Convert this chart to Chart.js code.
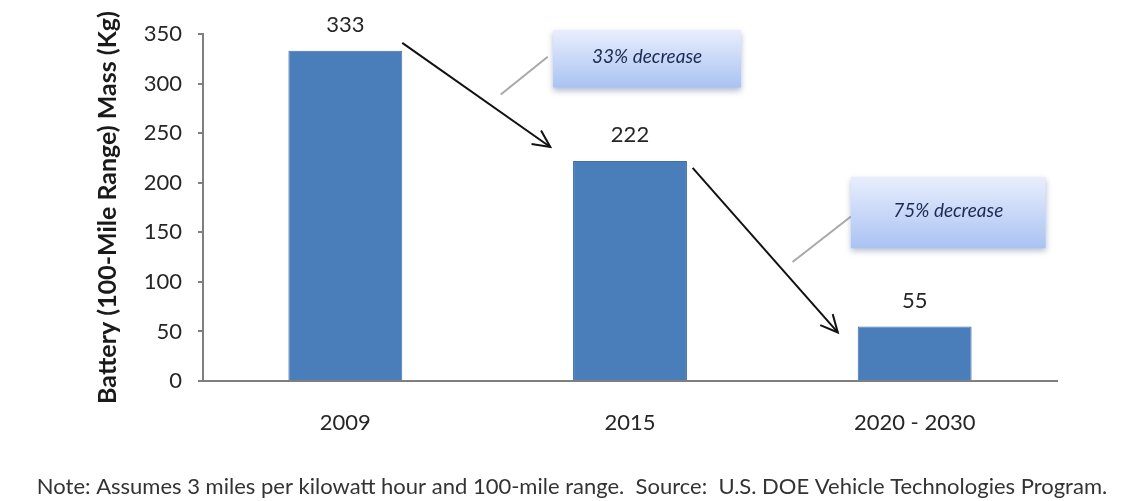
<!DOCTYPE html>
<html>
<head>
<meta charset="utf-8">
<script src="https://cdn.jsdelivr.net/npm/chart.js@4.4.0/dist/chart.umd.min.js"></script>
<style>
  html, body { margin: 0; padding: 0; background: #ffffff; }
  #wrap { width: 1123px; height: 501px; position: relative; }
</style>
</head>
<body>
<div id="wrap"><canvas id="c" width="1123" height="501"></canvas></div>
<script>
const categories = ['2009', '2015', '2020 - 2030'];
const massValues = [333, 222, 55];
const yTicks = [0, 50, 100, 150, 200, 250, 300, 350];
const axisTitle = 'Battery (100-Mile Range) Mass (Kg)';
const noteText = 'Note: Assumes 3 miles per kilowatt hour and 100-mile range.  Source:  U.S. DOE Vehicle Technologies Program.';
// annotations: [x index, value] endpoints
const arrows = [
  { from: [0.20, 341], to: [0.72, 236] },
  { from: [1.22, 215], to: [1.73, 49] }
];
const callouts = [
  { text: '33% decrease', x0: 0.73, x1: 1.39, yTop: 354, yBot: 296, lineFrom: [0.546, 289], lineTo: [0.711, 327] },
  { text: '75% decrease', x0: 1.776, x1: 2.46, yTop: 206, yBot: 134, lineFrom: [1.571, 120], lineTo: [1.776, 166] }
];

const FONT = 'Lato, "Open Sans", sans-serif';

const annotPlugin = {
  id: 'annot',
  afterDatasetsDraw(chart) {
    const ctx = chart.ctx;
    const xs = chart.scales.x, ys = chart.scales.y;
    const px = v => xs.getPixelForValue(v);
    const py = v => ys.getPixelForValue(v);
    ctx.save();
    // data labels
    const meta = chart.getDatasetMeta(0);
    ctx.fillStyle = '#262626';
    ctx.font = '22px ' + FONT;
    ctx.textAlign = 'center';
    ctx.textBaseline = 'middle';
    meta.data.forEach((bar, i) => {
      ctx.fillText(String(massValues[i]), bar.x, bar.y - 26);
    });
    // callout connectors
    callouts.forEach(c => {
      ctx.strokeStyle = '#a8a8a8';
      ctx.lineWidth = 2;
      ctx.beginPath();
      ctx.moveTo(px(c.lineFrom[0]), py(c.lineFrom[1]));
      ctx.lineTo(px(c.lineTo[0]), py(c.lineTo[1]));
      ctx.stroke();
    });
    // callout boxes
    callouts.forEach(c => {
      const x0 = px(c.x0), x1 = px(c.x1), y0 = py(c.yTop), y1 = py(c.yBot);
      ctx.save();
      ctx.shadowColor = 'rgba(90,110,160,0.45)';
      ctx.shadowBlur = 6;
      ctx.shadowOffsetY = 3;
      const g = ctx.createLinearGradient(0, y0, 0, y1);
      g.addColorStop(0, '#e9eefc');
      g.addColorStop(0.5, '#c9d8f8');
      g.addColorStop(1, '#a9c3f2');
      ctx.fillStyle = g;
      ctx.fillRect(x0, y0, x1 - x0, y1 - y0);
      ctx.restore();
      ctx.fillStyle = '#1c2a52';
      ctx.font = 'italic 19px ' + FONT;
      ctx.textAlign = 'center';
      ctx.textBaseline = 'middle';
      ctx.fillText(c.text, (x0 + x1) / 2, (y0 + y1) / 2 - 2);
    });
    // arrows
    arrows.forEach(a => {
      const x0 = px(a.from[0]), y0 = py(a.from[1]);
      const x1 = px(a.to[0]), y1 = py(a.to[1]);
      ctx.strokeStyle = '#111111';
      ctx.lineWidth = 2;
      ctx.beginPath();
      ctx.moveTo(x0, y0);
      ctx.lineTo(x1, y1);
      ctx.stroke();
      const ang = Math.atan2(y1 - y0, x1 - x0);
      const L = 19, w = 0.45;
      ctx.beginPath();
      ctx.moveTo(x1 - L * Math.cos(ang - w), y1 - L * Math.sin(ang - w));
      ctx.lineTo(x1, y1);
      ctx.lineTo(x1 - L * Math.cos(ang + w), y1 - L * Math.sin(ang + w));
      ctx.stroke();
    });
    // footnote
    ctx.fillStyle = '#333333';
    ctx.font = '22px ' + FONT;
    ctx.textAlign = 'center';
    ctx.textBaseline = 'middle';
    ctx.fillText(noteText, 572, 487);
    ctx.restore();
  }
};

const bgPlugin = {
  id: 'bg',
  beforeDraw(chart) {
    const ctx = chart.ctx;
    ctx.save();
    ctx.fillStyle = '#ffffff';
    ctx.fillRect(0, 0, chart.width, chart.height);
    ctx.restore();
  }
};

new Chart(document.getElementById('c'), {
  type: 'bar',
  data: {
    labels: categories,
    datasets: [{
      data: massValues,
      backgroundColor: '#4a7ebb',
      borderColor: '#3f70ab',
      borderWidth: 1,
      barPercentage: 0.4,
      categoryPercentage: 1.0
    }]
  },
  options: {
    responsive: false,
    animation: false,
    layout: { padding: { left: 0, right: 66, top: 34, bottom: 0 } },
    plugins: {
      legend: { display: false },
      tooltip: { enabled: false },
      title: { display: false }
    },
    scales: {
      x: {
        afterFit(scale) { scale.height = 120; },
        grid: { display: false, drawTicks: false },
        border: { display: true, color: '#7f7f7f', width: 2 },
        ticks: { color: '#262626', font: { family: FONT, size: 22 }, padding: 29 }
      },
      y: {
        min: 0,
        max: 350,
        afterFit(scale) { scale.width = 203; },
        afterBuildTicks(scale) { scale.ticks = yTicks.map(v => ({ value: v })); },
        grid: { drawOnChartArea: false, drawTicks: true, tickLength: 5, color: '#7f7f7f', lineWidth: 2 },
        border: { display: true, color: '#7f7f7f', width: 2 },
        ticks: { color: '#262626', font: { family: FONT, size: 22 }, padding: 16 },
        title: {
          display: true,
          text: axisTitle,
          color: '#1a1a1a',
          font: { family: FONT, size: 25, weight: 'bold', lineHeight: 1.2 },
          padding: { top: 93, bottom: 0 }
        }
      }
    }
  },
  plugins: [bgPlugin, annotPlugin]
});
</script>
</body>
</html>
